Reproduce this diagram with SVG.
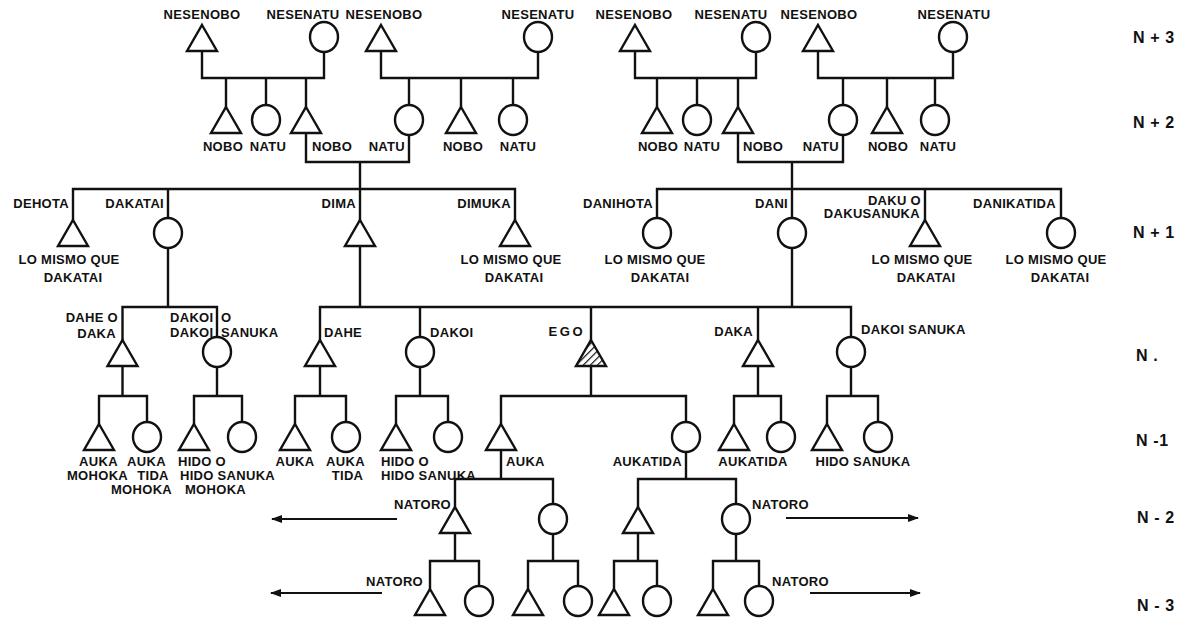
<svg xmlns="http://www.w3.org/2000/svg" width="1186" height="620" viewBox="0 0 1186 620">
<style>
.s{fill:#fff;stroke:#111;stroke-width:2.4}
.c{fill:none;stroke:#111;stroke-width:2.4}
.a{fill:none;stroke:#111;stroke-width:2}
.t{font-family:"Liberation Sans",Arial,sans-serif;font-weight:bold;font-size:13px;fill:#111;letter-spacing:0.3px}
.m{text-anchor:middle}
.e{text-anchor:end}
.lv{font-size:16px;letter-spacing:0.6px}
</style>
<defs>
<polygon id="tri" points="0,0 15,26 -15,26"/>
<ellipse id="cir" cx="0" cy="0" rx="14" ry="15"/>
<pattern id="hatch" patternUnits="userSpaceOnUse" width="5" height="5" patternTransform="rotate(45)">
<rect width="5" height="5" fill="#fff"/>
<line x1="0" y1="0" x2="0" y2="5" stroke="#111" stroke-width="2.4"/>
</pattern>
<marker id="ah" markerWidth="11" markerHeight="8" refX="10" refY="4" orient="auto" markerUnits="userSpaceOnUse">
<path d="M0,0 L11,4 L0,8 z" fill="#111"/>
</marker>
</defs>
<rect width="1186" height="620" fill="#fff"/>

<g id="connectors">
<path class="c" d="M202,51 V78 H324 V52 M226,78 V107 M266,78 V105 M306,78 V107"/>
<path class="c" d="M381,51 V78 H538 V52 M409,78 V105 M461,78 V107 M513,78 V105"/>
<path class="c" d="M635,51 V78 H756 V52 M657,78 V107 M697,78 V105 M738,78 V107"/>
<path class="c" d="M818,51 V78 H953 V52 M843,78 V105 M887,78 V107 M935,78 V105"/>
<path class="c" d="M306,133 V162 H409 V135 M360,162 V189"/>
<path class="c" d="M738,133 V162 H843 V135 M792,162 V189"/>
<path class="c" d="M73,220 V189 H515 V220 M168,189 V218 M360,189 V220"/>
<path class="c" d="M657,218 V189 H1061 V218 M792,189 V218 M925,189 V220"/>
<path class="c" d="M168,248 V307 M360,246 V307 M792,248 V307"/>
<path class="c" d="M122.5,340 V307 H217 V337"/>
<path class="c" d="M320,340 V307 H851 V337 M420,307 V337 M591,307 V340 M758,307 V340"/>
<path class="c" d="M122.5,366 V396 M99,424 V396 H147 V422"/>
<path class="c" d="M217,367 V396 M194,424 V396 H242 V422"/>
<path class="c" d="M320,366 V396 M295,424 V396 H346 V422"/>
<path class="c" d="M420,367 V396 M396,424 V396 H448 V422"/>
<path class="c" d="M591,366 V396 M501,424 V396 H686 V422"/>
<path class="c" d="M758,366 V396 M734,424 V396 H781 V422"/>
<path class="c" d="M851,367 V396 M827,424 V396 H878 V422"/>
<path class="c" d="M501,450 V479 M455,507 V479 H553 V504"/>
<path class="c" d="M686,452 V479 M638,507 V479 H736 V504"/>
<path class="c" d="M455,533 V561 M430,589 V561 H479 V586"/>
<path class="c" d="M553,534 V561 M528,589 V561 H578 V586"/>
<path class="c" d="M638,533 V561 M614,589 V561 H657 V586"/>
<path class="c" d="M736,534 V561 M713,589 V561 H759 V586"/>
<path class="a" marker-end="url(#ah)" d="M397,519 H272"/>
<path class="a" marker-end="url(#ah)" d="M786,518 H918"/>
<path class="a" marker-end="url(#ah)" d="M382,593 H271"/>
<path class="a" marker-end="url(#ah)" d="M810,593 H920"/>
</g>

<!-- N+3 -->
<g id="nesenobo-1"><use href="#tri" x="202" y="25" class="s"/><text class="t m" x="202" y="19">NESENOBO</text></g>
<g id="nesenatu-1"><use href="#cir" x="324" y="37" class="s"/><text class="t m" x="303" y="19">NESENATU</text></g>
<g id="nesenobo-2"><use href="#tri" x="381" y="25" class="s"/><text class="t m" x="384" y="19">NESENOBO</text></g>
<g id="nesenatu-2"><use href="#cir" x="538" y="37" class="s"/><text class="t m" x="538" y="19">NESENATU</text></g>
<g id="nesenobo-3"><use href="#tri" x="635" y="25" class="s"/><text class="t m" x="634" y="19">NESENOBO</text></g>
<g id="nesenatu-3"><use href="#cir" x="756" y="37" class="s"/><text class="t m" x="731" y="19">NESENATU</text></g>
<g id="nesenobo-4"><use href="#tri" x="818" y="25" class="s"/><text class="t m" x="819" y="19">NESENOBO</text></g>
<g id="nesenatu-4"><use href="#cir" x="953" y="37" class="s"/><text class="t m" x="954" y="19">NESENATU</text></g>

<!-- N+2 -->
<g id="nobo-1"><use href="#tri" x="226" y="107" class="s"/><text class="t m" x="223" y="150.5">NOBO</text></g>
<g id="natu-1"><use href="#cir" x="266" y="120" class="s"/><text class="t m" x="268" y="150.5">NATU</text></g>
<g id="nobo-2"><use href="#tri" x="306" y="107" class="s"/><text class="t" x="312" y="150.5">NOBO</text></g>
<g id="natu-2"><use href="#cir" x="409" y="120" class="s"/><text class="t e" x="405" y="150.5">NATU</text></g>
<g id="nobo-3"><use href="#tri" x="461" y="107" class="s"/><text class="t m" x="463" y="150.5">NOBO</text></g>
<g id="natu-3"><use href="#cir" x="513" y="120" class="s"/><text class="t m" x="518" y="150.5">NATU</text></g>
<g id="nobo-4"><use href="#tri" x="657" y="107" class="s"/><text class="t m" x="658" y="150.5">NOBO</text></g>
<g id="natu-4"><use href="#cir" x="697" y="120" class="s"/><text class="t m" x="702" y="150.5">NATU</text></g>
<g id="nobo-5"><use href="#tri" x="738" y="107" class="s"/><text class="t" x="743" y="150.5">NOBO</text></g>
<g id="natu-5"><use href="#cir" x="843" y="120" class="s"/><text class="t e" x="839" y="150.5">NATU</text></g>
<g id="nobo-6"><use href="#tri" x="887" y="107" class="s"/><text class="t m" x="888" y="150.5">NOBO</text></g>
<g id="natu-6"><use href="#cir" x="935" y="120" class="s"/><text class="t m" x="938" y="150.5">NATU</text></g>

<!-- N+1 -->
<g id="dehota"><use href="#tri" x="73" y="220" class="s"/><text class="t e" x="69" y="207.5">DEHOTA</text><text class="t m" x="69" y="263.5">LO MISMO QUE</text><text class="t m" x="73" y="281.5">DAKATAI</text></g>
<g id="dakatai"><use href="#cir" x="168" y="233" class="s"/><text class="t e" x="164" y="207.5">DAKATAI</text></g>
<g id="dima"><use href="#tri" x="360" y="220" class="s"/><text class="t e" x="356" y="207.5">DIMA</text></g>
<g id="dimuka"><use href="#tri" x="515" y="220" class="s"/><text class="t e" x="511" y="207.5">DIMUKA</text><text class="t m" x="511" y="263.5">LO MISMO QUE</text><text class="t m" x="514" y="281.5">DAKATAI</text></g>
<g id="danihota"><use href="#cir" x="657" y="233" class="s"/><text class="t e" x="653" y="207.5">DANIHOTA</text><text class="t m" x="655" y="263.5">LO MISMO QUE</text><text class="t m" x="660" y="281.5">DAKATAI</text></g>
<g id="dani"><use href="#cir" x="792" y="233" class="s"/><text class="t e" x="788" y="207.5">DANI</text></g>
<g id="daku"><use href="#tri" x="925" y="220" class="s"/><text class="t e" x="921" y="205">DAKU O</text><text class="t e" x="920" y="218">DAKUSANUKA</text><text class="t m" x="922" y="263.5">LO MISMO QUE</text><text class="t m" x="926" y="281.5">DAKATAI</text></g>
<g id="danikatida"><use href="#cir" x="1061" y="233" class="s"/><text class="t e" x="1056" y="207.5">DANIKATIDA</text><text class="t m" x="1056" y="263.5">LO MISMO QUE</text><text class="t m" x="1060" y="281.5">DAKATAI</text></g>

<!-- N -->
<g id="dahe-o-daka"><use href="#tri" x="122.5" y="340" class="s"/><text class="t e" x="118" y="321.5">DAHE O</text><text class="t e" x="116" y="337.5">DAKA</text></g>
<g id="dakoi-o"><use href="#cir" x="217" y="352" class="s"/><text class="t" y="321.5"><tspan x="170">DAKOI</tspan> <tspan x="221">O</tspan></text><text class="t" y="336.5"><tspan x="170">DAKOI</tspan> <tspan x="221">SANUKA</tspan></text></g>
<g id="dahe"><use href="#tri" x="320" y="340" class="s"/><text class="t" x="324" y="336.5">DAHE</text></g>
<g id="dakoi"><use href="#cir" x="420" y="352" class="s"/><text class="t" x="430" y="336.5">DAKOI</text></g>
<g id="ego"><polygon points="591,340 606,366 576,366" fill="url(#hatch)" stroke="#111" stroke-width="2.4"/><text class="t e" x="585" y="336" style="letter-spacing:2.5px">EGO</text></g>
<g id="daka"><use href="#tri" x="758" y="340" class="s"/><text class="t e" x="753" y="335.5">DAKA</text></g>
<g id="dakoi-sanuka"><use href="#cir" x="851" y="352" class="s"/><text class="t" x="861" y="333.5">DAKOI SANUKA</text></g>

<!-- N-1 -->
<g id="auka-mohoka"><use href="#tri" x="99" y="424" class="s"/><text class="t m" x="98.5" y="466">AUKA</text><text class="t m" x="97.5" y="479.5">MOHOKA</text></g>
<g id="auka-tida-mohoka"><use href="#cir" x="147" y="437" class="s"/><text class="t m" x="146.5" y="466">AUKA</text><text class="t m" x="153" y="479.5">TIDA</text><text class="t m" x="141.5" y="494">MOHOKA</text></g>
<g id="hido-o-1"><use href="#tri" x="194" y="424" class="s"/><text class="t" x="178" y="466">HIDO O</text><text class="t" x="180" y="479.5">HIDO SANUKA</text></g>
<g id="mohoka-2"><use href="#cir" x="242" y="437" class="s"/><text class="t m" x="215.5" y="494">MOHOKA</text></g>
<g id="auka-2"><use href="#tri" x="295" y="424" class="s"/><text class="t m" x="295" y="466">AUKA</text></g>
<g id="auka-tida-2"><use href="#cir" x="346" y="437" class="s"/><text class="t m" x="345.5" y="466">AUKA</text><text class="t m" x="347.5" y="479.5">TIDA</text></g>
<g id="hido-o-2"><use href="#tri" x="396" y="424" class="s"/><text class="t" x="381" y="466">HIDO O</text><text class="t" x="381" y="479.5">HIDO SANUKA</text></g>
<g id="f-448"><use href="#cir" x="448" y="437" class="s"/></g>
<g id="auka-ego"><use href="#tri" x="501" y="424" class="s"/><text class="t" x="506" y="466">AUKA</text></g>
<g id="aukatida-ego"><use href="#cir" x="686" y="437" class="s"/><text class="t e" x="682" y="466">AUKATIDA</text></g>
<g id="m-734"><use href="#tri" x="734" y="424" class="s"/><text class="t m" x="753" y="466">AUKATIDA</text></g>
<g id="f-781"><use href="#cir" x="781" y="437" class="s"/></g>
<g id="m-827"><use href="#tri" x="827" y="424" class="s"/><text class="t m" x="863" y="466">HIDO SANUKA</text></g>
<g id="f-878"><use href="#cir" x="878" y="437" class="s"/></g>

<!-- N-2 -->
<g id="natoro-1"><use href="#tri" x="455" y="507" class="s"/><text class="t e" x="451" y="508.5">NATORO</text></g>
<g id="f-553"><use href="#cir" x="553" y="519" class="s"/></g>
<g id="m-638"><use href="#tri" x="638" y="507" class="s"/></g>
<g id="natoro-2"><use href="#cir" x="736" y="519" class="s"/><text class="t" x="752" y="508.5">NATORO</text></g>

<!-- N-3 -->
<g id="natoro-3"><use href="#tri" x="430" y="589" class="s"/><text class="t e" x="423" y="585.5">NATORO</text></g>
<g id="f-479"><use href="#cir" x="479" y="601" class="s"/></g>
<g id="m-528"><use href="#tri" x="528" y="589" class="s"/></g>
<g id="f-578"><use href="#cir" x="578" y="601" class="s"/></g>
<g id="m-614"><use href="#tri" x="614" y="589" class="s"/></g>
<g id="f-657"><use href="#cir" x="657" y="601" class="s"/></g>
<g id="m-713"><use href="#tri" x="713" y="589" class="s"/></g>
<g id="natoro-4"><use href="#cir" x="759" y="601" class="s"/><text class="t" x="772" y="585.5">NATORO</text></g>

<!-- generation labels -->
<g id="generations">
<text class="t lv" x="1133" y="43">N + 3</text>
<text class="t lv" x="1133" y="128">N + 2</text>
<text class="t lv" x="1133" y="238">N + 1</text>
<text class="t lv" x="1136" y="361">N .</text>
<text class="t lv" x="1136" y="446">N -1</text>
<text class="t lv" x="1137" y="523">N - 2</text>
<text class="t lv" x="1137" y="611">N - 3</text>
</g>
</svg>
